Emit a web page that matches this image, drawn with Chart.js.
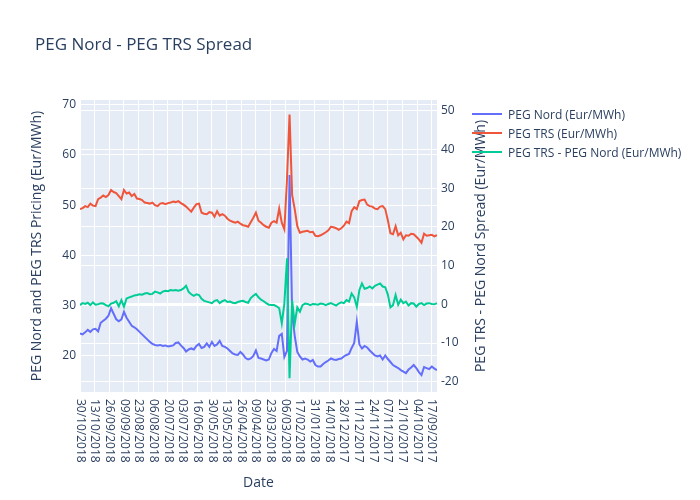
<!DOCTYPE html>
<html>
<head>
<meta charset="utf-8">
<title>PEG Nord - PEG TRS Spread</title>
<script src="https://cdn.jsdelivr.net/npm/chart.js@4.4.0/dist/chart.umd.min.js"></script>
<style>
body{margin:0;background:#fff;font-family:"Open Sans",verdana,arial,sans-serif}
#wrap{position:relative;width:700px;height:500px}
.legend{position:absolute;left:472px;top:104.5px;font-size:12px;color:#2a3f5f}
.legend div{display:flex;align-items:center;height:19px;white-space:nowrap}
.legend .ln{display:inline-block;width:30px;height:2px;margin-right:6px}
</style>
</head>
<body>
<div id="wrap">
 <canvas id="chart"></canvas>
 <div class="legend" id="legend"></div>
</div>
<script>
/* dates on the x axis, one label every 17 days, newest first */
const dateTicks=["30/10/2018","13/10/2018","26/09/2018","09/09/2018","23/08/2018","06/08/2018","20/07/2018","03/07/2018","16/06/2018","30/05/2018","13/05/2018","26/04/2018","09/04/2018","23/03/2018","06/03/2018","17/02/2018","31/01/2018","14/01/2018","28/12/2017","11/12/2017","24/11/2017","07/11/2017","21/10/2017","04/10/2017","17/09/2017"];
const tickEvery=17;
const stepDays=3; // one reading every 3 days going back from 30/10/2018
const lastDay=414;

const seriesNames=["PEG Nord (Eur/MWh)","PEG TRS (Eur/MWh)","PEG TRS - PEG Nord (Eur/MWh)"];
const seriesColors=["#636efa","#EF553B","#00cc96"];

const pegNord=[
 24.5,24.3,24.7,25.2,24.8,25.3,25.4,24.9,26.6,27.0,
 27.4,28.0,29.5,28.4,27.3,26.9,27.3,28.8,27.6,26.8,
 26.0,25.7,25.3,24.8,24.3,23.8,23.3,22.8,22.4,22.2,
 22.1,22.2,22.0,22.1,21.9,22.0,22.1,22.6,22.7,22.1,
 21.6,20.9,21.3,21.5,21.3,22.0,22.4,21.6,21.8,22.5,
 21.8,22.8,22.0,22.3,23.0,22.0,21.8,21.5,21.0,20.5,
 20.3,20.2,20.8,20.3,19.6,19.3,19.5,20.0,21.1,19.6,
 19.5,19.3,19.1,19.3,20.6,21.4,21.0,24.0,24.4,19.8,
 21.0,56.0,28.5,24.0,20.8,19.9,19.3,19.5,19.3,18.9,
 19.2,18.2,17.9,17.9,18.4,18.8,19.1,19.5,19.3,19.2,
 19.4,19.5,19.9,20.2,20.4,21.6,22.6,26.8,22.3,21.5,
 22.0,21.7,21.1,20.6,20.1,19.9,20.1,19.3,20.1,19.4,
 18.8,18.2,17.9,17.6,17.2,16.9,16.6,17.3,17.7,18.2,
 17.6,16.8,16.2,17.8,17.6,17.4,17.9,17.5,17.2
];
const pegTrs=[
 49.2,49.4,49.8,49.6,50.3,49.9,49.8,51.2,51.5,51.9,
 51.6,52.0,53.0,52.6,52.4,51.8,51.2,53.0,52.3,52.5,
 51.8,52.2,51.3,51.2,51.0,50.5,50.4,50.3,50.5,50.0,
 49.8,50.3,50.4,50.2,50.4,50.5,50.7,50.6,50.8,50.4,
 50.1,49.7,49.2,48.7,49.5,50.2,50.3,48.5,48.3,48.2,
 48.6,48.5,47.7,48.8,47.9,48.2,47.9,47.3,46.9,46.7,
 46.5,46.7,46.3,46.0,45.9,45.7,46.6,47.5,48.5,46.9,
 46.5,46.0,45.7,45.5,46.5,46.8,46.5,49.3,46.5,45.2,
 55.0,68.0,52.0,49.2,45.8,44.5,44.7,44.8,44.9,44.6,
 44.7,43.9,43.8,44.0,44.3,44.6,45.0,45.7,45.6,45.4,
 45.1,45.4,45.9,46.7,46.4,48.8,49.6,49.2,50.8,51.0,
 51.1,50.1,49.8,49.7,49.3,49.2,49.7,49.8,49.2,47.0,
 44.4,44.2,45.8,44.0,44.5,43.2,44.0,43.9,44.3,44.2,
 43.7,43.2,42.5,44.3,43.9,44.0,44.1,43.8,44.0
];
const spread=[
 -0.2,0.3,0.1,0.4,-0.2,0.5,-0.1,0.0,0.3,0.2,
 -0.2,-0.5,0.2,0.4,0.8,-0.5,1.1,-0.6,1.5,1.8,
 2.0,2.3,2.4,2.6,2.5,2.8,2.9,2.6,2.7,3.3,
 3.1,2.8,3.3,3.5,3.4,3.7,3.6,3.7,3.5,3.7,
 4.1,4.8,3.2,2.6,2.2,2.6,2.4,1.4,0.9,0.7,
 0.5,0.3,0.9,1.1,0.3,0.8,1.1,0.6,0.7,0.4,
 0.3,0.6,0.8,0.9,0.6,0.4,1.6,2.2,2.7,1.8,
 1.2,0.8,0.3,-0.1,-0.2,-0.2,-0.5,-1.0,-4.9,0.2,
 11.9,-19.1,1.0,-5.0,-0.8,-1.9,-0.2,0.2,0.1,-0.2,
 0.1,0.0,-0.1,0.2,0.1,-0.2,0.1,0.3,0.0,-0.3,
 0.2,0.5,0.3,1.1,0.7,2.8,1.8,-0.6,3.7,5.4,
 4.0,4.2,4.6,4.1,4.8,5.1,5.4,4.6,4.4,2.5,
 -0.8,-0.2,2.4,-0.1,1.2,0.3,0.7,-0.3,0.3,0.2,
 -0.6,0.1,0.3,-0.2,0.2,0.3,0.1,0.0,0.3
];

const FONT='"Open Sans", verdana, arial, sans-serif';
const TXT="#2a3f5f";
const rightTitle="PEG TRS - PEG Nord Spread (Eur/MWh)";

Chart.defaults.font.family=FONT;
Chart.defaults.color=TXT;

function pts(vals){
 return vals.map((v,i)=>({x:i*stepDays,y:v}));
}

/* plot background */
const plotBg={
 id:"plotBg",
 beforeDraw(chart){
  const {ctx,chartArea:a}=chart;
  ctx.save();
  ctx.fillStyle="#E5ECF6";
  ctx.fillRect(a.left,a.top,a.right-a.left,a.bottom-a.top);
  ctx.restore();
 }
};

/* date labels read top-to-bottom and right title bottom-to-top, like the original */
const extraText={
 id:"extraText",
 afterDraw(chart){
  const ctx=chart.ctx;
  const xs=chart.scales.x;
  const yr=chart.scales.y1;
  const a=chart.chartArea;
  ctx.save();
  ctx.fillStyle=TXT;
  ctx.font="12px "+FONT;
  ctx.textAlign="left";
  ctx.textBaseline="middle";
  dateTicks.forEach((t,k)=>{
   const px=xs.getPixelForValue(k*tickEvery);
   ctx.save();
   ctx.translate(px,xs.top+7);
   ctx.rotate(Math.PI/2);
   ctx.fillText(t,0,0);
   ctx.restore();
  });
  ctx.font="14px "+FONT;
  ctx.textAlign="center";
  ctx.translate(yr.right-8,(a.top+a.bottom)/2);
  ctx.rotate(-Math.PI/2);
  ctx.fillText(rightTitle,0,0);
  ctx.restore();
 }
};

const ds=(label,color,data,axis,order)=>({
 label,data:pts(data),yAxisID:axis,order,
 borderColor:color,backgroundColor:color,borderWidth:2,
 pointRadius:0,tension:0,fill:false
});

new Chart(document.getElementById("chart"),{
 type:"line",
 data:{
  datasets:[
   ds(seriesNames[0],seriesColors[0],pegNord,"y",3),
   ds(seriesNames[1],seriesColors[1],pegTrs,"y",2),
   ds(seriesNames[2],seriesColors[2],spread,"y1",1)
  ]
 },
 options:{
  responsive:true,
  maintainAspectRatio:false,
  animation:false,
  layout:{padding:{left:35,right:211,top:0,bottom:0}},
  plugins:{
   legend:{display:false},
   tooltip:{enabled:false},
   title:{
    display:true,
    text:"PEG Nord - PEG TRS Spread",
    align:"start",
    color:TXT,
    font:{size:17,weight:"normal"},
    padding:{top:34.8,bottom:44.8}
   }
  },
  scales:{
   x:{
    type:"linear",
    min:0,max:lastDay,
    afterBuildTicks(s){s.ticks=dateTicks.map((t,k)=>({value:k*tickEvery}));},
    afterFit(s){s.height=108;},
    ticks:{display:false},
    grid:{color:"#fff",lineWidth:1,drawTicks:false},
    border:{display:false},
    title:{display:true,text:"Date",color:TXT,font:{size:14},padding:{top:0,bottom:8.6}}
   },
   y:{
    position:"left",
    min:12.84,max:70.9,
    afterFit(s){s.width=45;},
    ticks:{stepSize:10,includeBounds:false,padding:4,color:TXT,font:{size:12}},
    grid:{color:"#fff",lineWidth:1,drawTicks:false},
    border:{display:false},
    title:{display:true,text:"PEG Nord and PEG TRS Pricing (Eur/MWh)",color:TXT,font:{size:14},padding:{top:-6.4,bottom:0}}
   },
   y1:{
    position:"right",
    min:-22.63,max:52.74,
    afterFit(s){s.width=52;},
    ticks:{stepSize:10,includeBounds:false,padding:4,color:TXT,font:{size:12}},
    grid:{color:"#fff",lineWidth:c=>c.tick&&c.tick.value===0?2:1,drawTicks:false},
    border:{display:false},
    title:{display:false}
   }
  }
 },
 plugins:[plotBg,extraText]
});

document.getElementById("legend").innerHTML=seriesNames.map((n,i)=>
 `<div><span class="ln" style="background:${seriesColors[i]}"></span>${n}</div>`
).join("");
</script>
</body>
</html>
